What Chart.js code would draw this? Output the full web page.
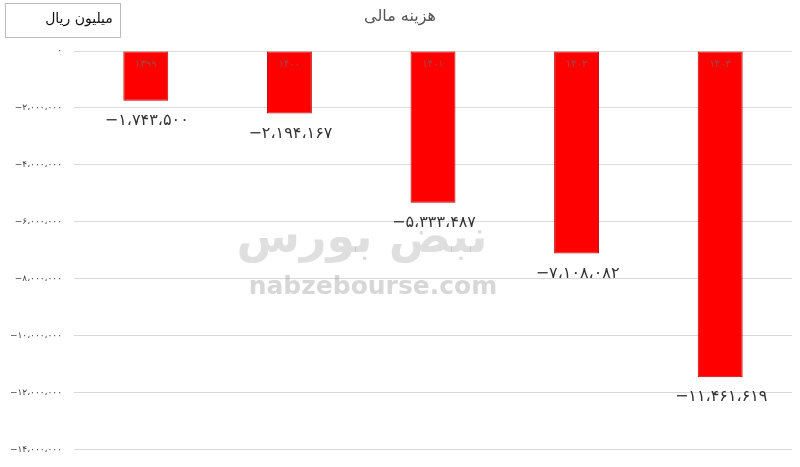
<!DOCTYPE html>
<html><head><meta charset="utf-8">
<script src="https://cdn.jsdelivr.net/npm/chart.js@4"></script>
<style>html,body{margin:0;padding:0;background:#fff;}#wrap{width:800px;height:467px;position:relative;}</style>
</head><body><div id="wrap"><canvas id="c"></canvas></div>
<script>
const categories = ['۱۳۹۹','۱۴۰۰','۱۴۰۱','۱۴۰۲','۱۴۰۳'];
const values = [-1743500, -2194167, -5333487, -7108082, -11461619];
const valueLabels = ['−۱،۷۴۳،۵۰۰','−۲،۱۹۴،۱۶۷','−۵،۳۳۳،۴۸۷','−۷،۱۰۸،۰۸۲','−۱۱،۴۶۱،۶۱۹'];
const tickLabels = {'0':'۰','-2000000':'\u200E−۲،۰۰۰،۰۰۰','-4000000':'\u200E−۴،۰۰۰،۰۰۰','-6000000':'\u200E−۶،۰۰۰،۰۰۰','-8000000':'\u200E−۸،۰۰۰،۰۰۰','-10000000':'\u200E−۱۰،۰۰۰،۰۰۰','-12000000':'\u200E−۱۲،۰۰۰،۰۰۰','-14000000':'\u200E−۱۴،۰۰۰،۰۰۰'};
const titleText = 'هزینه مالی';
const unitText = 'میلیون ریال';

const FONT = '"DejaVu Sans", "Noto Sans", sans-serif';

const deco = {
  id: 'deco',
  afterDraw(chart) {
    const ctx = chart.ctx;
    ctx.save();
    // title
    ctx.fillStyle = '#555';
    ctx.font = '16px ' + FONT;
    ctx.textAlign = 'center'; ctx.textBaseline = 'middle';
    ctx.fillText(titleText, 400, 17);
    // unit box
    ctx.strokeStyle = '#bbb'; ctx.lineWidth = 1;
    ctx.strokeRect(5.5, 3.5, 115, 34);
    ctx.fillStyle = '#111';
    ctx.font = '14px ' + FONT;
    ctx.fillText(unitText, 79, 19);
    // labels
    const meta = chart.getDatasetMeta(0);
    meta.data.forEach((bar, i) => {
      ctx.fillStyle = '#a04848';
      ctx.font = '10px ' + FONT;
      ctx.textBaseline = 'middle';
      ctx.fillText(categories[i], bar.x, bar.base + 13);
      ctx.fillStyle = '#333';
      ctx.font = '16px ' + FONT;
      ctx.fillText(valueLabels[i], bar.x + 1, bar.y + 20);
    });
    // watermark
    ctx.fillStyle = 'rgba(140,140,140,0.28)';
    ctx.font = 'bold 46px ' + FONT;
    ctx.fillText('نبض بورس', 362, 240);
    ctx.fillStyle = 'rgba(140,140,140,0.35)';
    ctx.font = 'bold 25px ' + FONT;
    ctx.fillText('nabzebourse.com', 373, 287);
    ctx.restore();
  }
};

new Chart(document.getElementById('c'), {
  type: 'bar',
  data: {
    labels: categories,
    datasets: [{
      data: values,
      backgroundColor: '#ff0000',
      borderColor: '#c00000',
      borderWidth: 1,
      borderSkipped: false,
      categoryPercentage: 1,
      barPercentage: 0.313
    }]
  },
  options: {
    responsive: true,
    maintainAspectRatio: false,
    animation: false,
    layout: { padding: { top: 51, bottom: 15, left: 0, right: 8 } },
    plugins: { legend: { display: false }, tooltip: { enabled: false } },
    scales: {
      x: { display: false },
      y: {
        min: -14000000, max: 0,
        afterFit(scale) { scale.width = 74; },
        ticks: {
          stepSize: 2000000,
          padding: 12,
          color: '#444',
          font: { size: 9, family: FONT },
          callback: (v) => tickLabels[String(v)] || ''
        },
        grid: { color: '#d9d9d9', drawTicks: false, lineWidth: 1 },
        border: { display: false }
      }
    }
  },
  plugins: [deco]
});
</script></body></html>
